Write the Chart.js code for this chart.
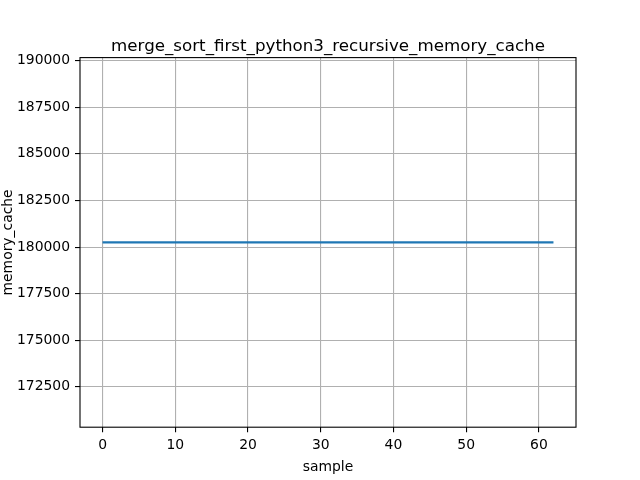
<!DOCTYPE html>
<html>
<head>
<meta charset="utf-8">
<script src="https://cdn.jsdelivr.net/npm/chart.js@4/dist/chart.umd.min.js"></script>
<style>
html,body{margin:0;padding:0;background:#fff;}
#wrap{width:640px;height:480px;position:relative;}
</style>
</head>
<body>
<div id="wrap"><canvas id="c" width="640" height="480"></canvas></div>
<script>
const chartTitle = "merge_sort_first_python3_recursive_memory_cache";
const xLabel = "sample";
const yLabel = "memory_cache";
const samples = [0,1,2,3,4,5,6,7,8,9,10,11,12,13,14,15,16,17,18,19,20,21,22,23,24,25,26,27,28,29,30,31,32,33,34,35,36,37,38,39,40,41,42,43,44,45,46,47,48,49,50,51,52,53,54,55,56,57,58,59,60,61,62];
const memoryCache = [180250,180250,180250,180250,180250,180250,180250,180250,180250,180250,180250,180250,180250,180250,180250,180250,180250,180250,180250,180250,180250,180250,180250,180250,180250,180250,180250,180250,180250,180250,180250,180250,180250,180250,180250,180250,180250,180250,180250,180250,180250,180250,180250,180250,180250,180250,180250,180250,180250,180250,180250,180250,180250,180250,180250,180250,180250,180250,180250,180250,180250,180250,180250];
const xTicks = [0,10,20,30,40,50,60];
const yTicks = [172500,175000,177500,180000,182500,185000,187500,190000];

const FONT = "'DejaVu Sans', sans-serif";

const framePlugin = {
  id: 'frame',
  afterDraw(chart) {
    const a = chart.chartArea, ctx = chart.ctx;
    ctx.save();
    ctx.strokeStyle = '#000';
    ctx.lineWidth = 1.1;
    ctx.strokeRect(a.left, a.top, a.right - a.left, a.bottom - a.top);
    ctx.fillStyle = '#000';
    ctx.font = "16.7px " + FONT;
    ctx.textAlign = 'center';
    ctx.textBaseline = 'alphabetic';
    ctx.fillText(chartTitle, (a.left + a.right) / 2, a.top - 7);
    ctx.restore();
  }
};

new Chart(document.getElementById('c'), {
  type: 'line',
  data: {
    datasets: [{
      data: samples.map((s, i) => ({x: s, y: memoryCache[i]})),
      borderColor: '#1f77b4',
      borderWidth: 2.1,
      pointRadius: 0,
      fill: false,
      tension: 0
    }]
  },
  options: {
    responsive: false,
    animation: false,
    devicePixelRatio: 1,
    layout: {padding: {left: 0, top: 57.6, right: 64, bottom: 0}},
    plugins: {legend: {display: false}, tooltip: {enabled: false}, title: {display: false}},
    scales: {
      x: {
        type: 'linear',
        min: -3.1, max: 65.1,
        afterBuildTicks(s) { s.ticks = xTicks.map(v => ({value: v})); },
        afterFit(s) { s.height = 52.8; },
        grid: {color: '#b0b0b0', lineWidth: 1.1, tickColor: '#000', tickLength: 5, drawTicks: true},
        border: {display: false},
        ticks: {color: '#000', font: {family: FONT, size: 13.9}, padding: 5, maxRotation: 0, autoSkip: false},
        title: {display: true, text: xLabel, color: '#000', font: {family: FONT, size: 13.9}, padding: {top: 2, bottom: 4}}
      },
      y: {
        type: 'linear',
        min: 170336, max: 190164,
        afterBuildTicks(s) { s.ticks = yTicks.map(v => ({value: v})); },
        afterFit(s) { s.width = 80; },
        grid: {color: '#b0b0b0', lineWidth: 1.1, tickColor: '#000', tickLength: 5, drawTicks: true},
        border: {display: false},
        ticks: {color: '#000', font: {family: FONT, size: 13.9}, padding: 5, autoSkip: false, callback: v => String(v)},
        title: {display: true, text: yLabel, color: '#000', font: {family: FONT, size: 13.9}, padding: {top: 0, bottom: 0}}
      }
    }
  },
  plugins: [framePlugin]
});
</script>
</body>
</html>
